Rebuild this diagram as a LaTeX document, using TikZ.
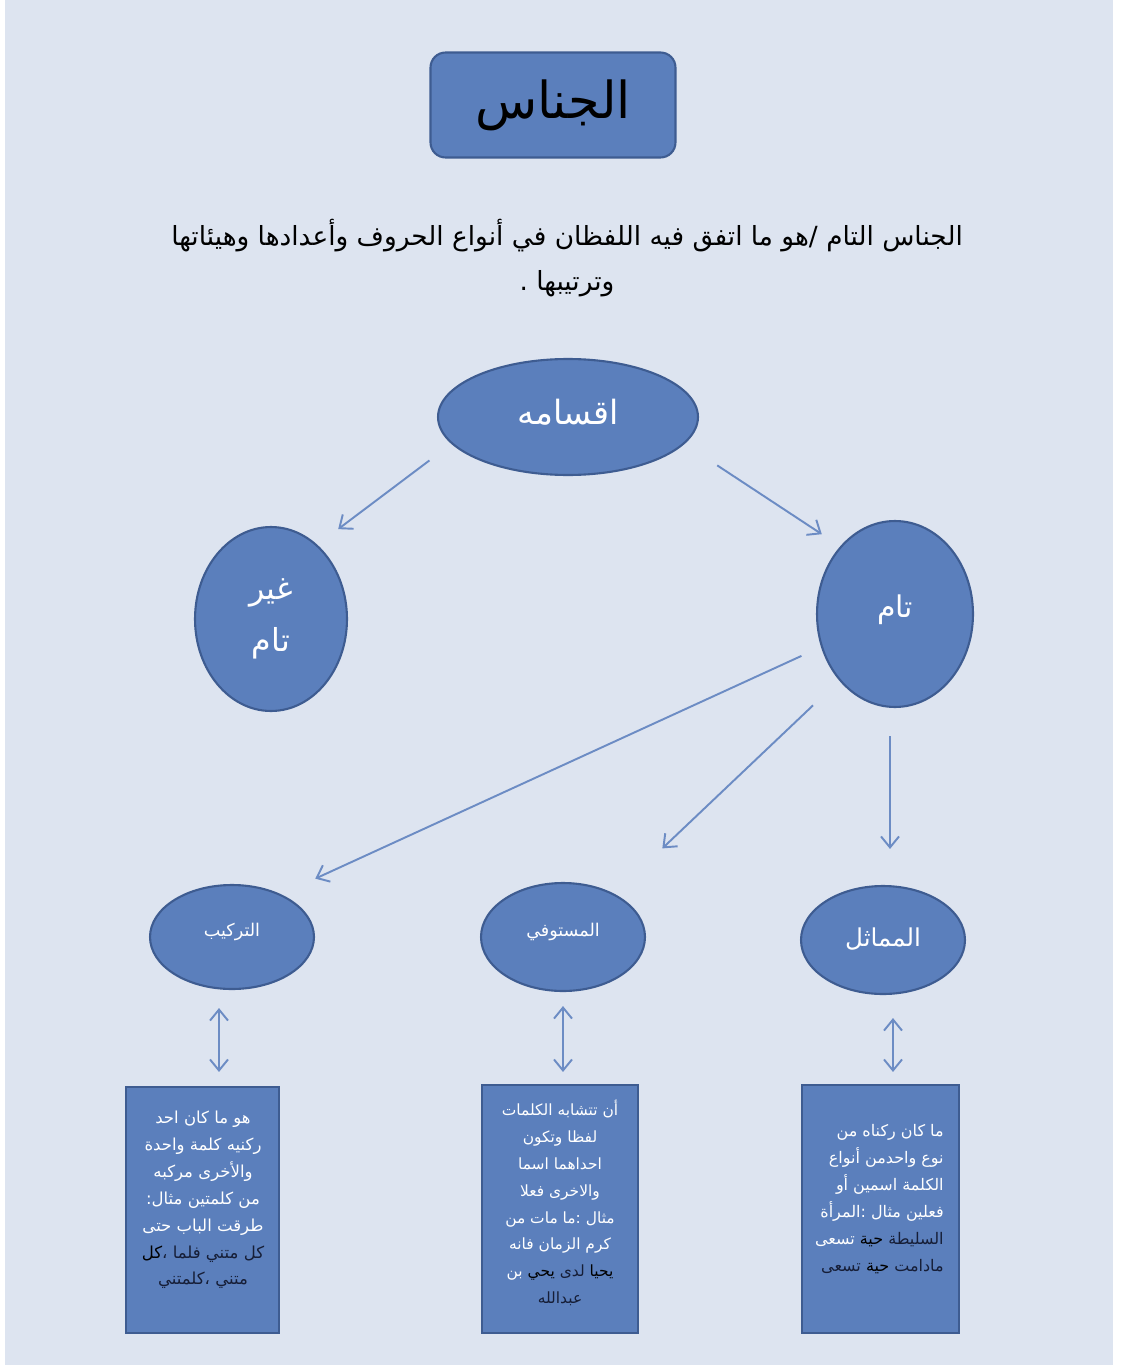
\documentclass[tikz,border=0pt]{standalone}
\usepackage{fontspec}
\usepackage{xcolor}
\usepackage{tikz}
\usetikzlibrary{positioning, shapes.geometric, arrows.meta, calc}
\TeXXeTstate=1
\newfontfamily\arabicfont[Script=Arabic]{DejaVu Sans}
\newcommand{\artxt}[1]{{\arabicfont\beginR #1\endR}}
\definecolor{pagebg}{RGB}{221,228,240}
\definecolor{shapefill}{RGB}{91,127,188}
\definecolor{shapeedge}{RGB}{62,92,145}
\definecolor{linkblue}{RGB}{108,140,196}
\definecolor{inkdark}{RGB}{22,30,55}

\begin{document}
\begin{tikzpicture}[x=0.02cm, y=-0.02cm,
    bubble/.style={ellipse, draw=shapeedge, line width=1.2pt, fill=shapefill, inner sep=0pt, text=white},
    card/.style={rectangle, draw=shapeedge, line width=1.2pt, fill=shapefill, inner sep=0pt},
    cardtext/.style={text=white, inner sep=0pt},
    link/.style={draw=linkblue, line width=1.1pt, -{Straight Barb[length=0.22cm, width=0.36cm]}},
    twoway/.style={draw=linkblue, line width=1.1pt, {Straight Barb[length=0.22cm, width=0.36cm]}-{Straight Barb[length=0.22cm, width=0.36cm]}}]
        % Page, with its white margins
        \fill[white] (0,0) rectangle (1125,1365);
        \fill[pagebg] (5,0) rectangle (1113,1365);
        \useasboundingbox (0,0) rectangle (1125,1365);
        % Title
        \node[card, rounded corners=0.3cm, minimum width=4.9cm, minimum height=2.1cm] (title) at (553,105)
            {\fontsize{29}{29}\selectfont\artxt{الجناس}};
        % Definition
        \node[align=center, font=\fontsize{15}{25.5}\selectfont] (defn) at (567,258)
            {\artxt{الجناس التام /هو ما اتفق فيه اللفظان في أنواع الحروف وأعدادها وهيئاتها}\\
             \artxt{وترتيبها .}};
        % Parts
        \node[bubble, minimum width=5.2cm, minimum height=2.32cm] (parts) at (568,417)
            {\fontsize{19}{19}\selectfont\raisebox{0.2cm}{\artxt{اقسامه}}};
        \node[bubble, minimum width=3.04cm, minimum height=3.68cm, align=center, font=\fontsize{18}{29.5}\selectfont] (incomplete) at (271,619)
            {\artxt{غير}\\\artxt{تام}};
        \node[bubble, minimum width=3.12cm, minimum height=3.72cm] (complete) at (895,614)
            {\fontsize{17}{17}\selectfont\raisebox{0.3cm}{\artxt{تام}}};
        % Kinds of the complete one
        \node[bubble, minimum width=3.28cm, minimum height=2.08cm] (tarkib) at (232,937)
            {\fontsize{10}{10}\selectfont\raisebox{0.3cm}{\artxt{التركيب}}};
        \node[bubble, minimum width=3.28cm, minimum height=2.16cm] (mustawfi) at (563,937)
            {\fontsize{10}{10}\selectfont\raisebox{0.3cm}{\artxt{المستوفي}}};
        \node[bubble, minimum width=3.28cm, minimum height=2.16cm] (mumathil) at (883,940)
            {\fontsize{14}{14}\selectfont\raisebox{0.1cm}{\artxt{المماثل}}};
        % Cards
        \node[card, minimum width=3.06cm, minimum height=4.92cm] (tarkibcard) at (202.5,1210) {};
        \node[card, minimum width=3.12cm, minimum height=4.96cm] (mustawficard) at (560,1209) {};
        \node[card, minimum width=3.14cm, minimum height=4.96cm] (mumathilcard) at (880.5,1209) {};
        \node[cardtext, align=center, font=\fontsize{9.4}{15.3}\selectfont] (tarkibtext) at (203,1200)
            {\artxt{هو ما كان احد}\\
             \artxt{ركنيه كلمة واحدة}\\
             \artxt{والأخرى مركبه}\\
             \artxt{من كلمتين  مثال:}\\
             \artxt{طرقت الباب حتى}\\
             \artxt{كل متني فلما ،\textcolor{inkdark}{كل}}\\
             \textcolor{inkdark}{\artxt{متني ،كلمتني}}};
        \node[cardtext, align=center, font=\fontsize{8.8}{15.3}\selectfont] (mustawfitext) at (560,1203)
            {\artxt{أن تتشابه الكلمات}\\
             \artxt{لفظا وتكون}\\
             \artxt{احداهما اسما}\\
             \artxt{والاخرى فعلا}\\
             \artxt{مثال :ما مات من}\\
             \artxt{كرم  الزمان فانه}\\
             \artxt{\textcolor{inkdark}{يحيا} لدى \textcolor{inkdark}{يحي} بن}\\
             \artxt{عبدالله}};
        \node[cardtext, align=right, anchor=east, font=\fontsize{9.1}{15.3}\selectfont] (mumathiltext) at (944,1199)
            {\artxt{ما كان ركناه من}\\
             \artxt{نوع واحدمن أنواع}\\
             \artxt{الكلمة اسمين أو}\\
             \artxt{فعلين  مثال :المرأة}\\
             \artxt{السليطة \textcolor{inkdark}{حية} تسعى}\\
             \artxt{مادامت \textcolor{inkdark}{حية} تسعى}};
        % Arrows
        \draw[link, shorten <=0.55cm, shorten >=0.52cm] (parts.193) -- (incomplete.58);
        \draw[link, shorten <=0.78cm, shorten >=0.44cm] (parts.347) -- (complete.129);
        \draw[link, shorten <=0.43cm, shorten >=0.75cm] (complete.204) -- (tarkib.41);
        \draw[link, shorten <=0.72cm, shorten >=1.32cm] (complete.230) -- (mustawfi.40);
        \draw[link, shorten <=0.56cm, shorten >=0.72cm] ([xshift=-0.1cm]complete.south) -- ([xshift=-0.1cm]complete.south |- mumathil.north);
        \draw[twoway, shorten <=0.36cm, shorten >=0.28cm] ([xshift=-0.26cm]tarkib.south) -- ([xshift=-0.26cm]tarkib.south |- tarkibcard.north);
        \draw[twoway, shorten <=0.28cm, shorten >=0.24cm] (mustawfi.south) -- (mustawfi.south |- mustawficard.north);
        \draw[twoway, shorten <=0.46cm, shorten >=0.24cm] ([xshift=0.2cm]mumathil.south) -- ([xshift=0.2cm]mumathil.south |- mumathilcard.north);
\end{tikzpicture}
\end{document}
